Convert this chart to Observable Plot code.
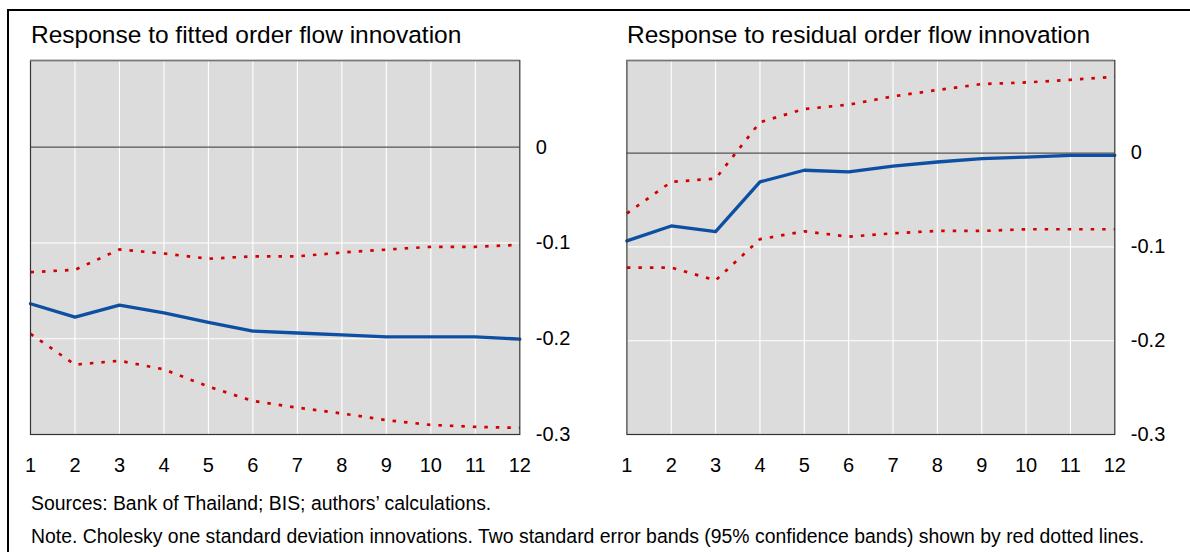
<!DOCTYPE html>
<html>
<head>
<meta charset="utf-8">
<script src="https://cdn.jsdelivr.net/npm/d3@7"></script>
<script src="https://cdn.jsdelivr.net/npm/@observablehq/plot@0.6"></script>
<style>
  html, body { margin: 0; padding: 0; background: #fff; overflow: hidden; width: 1190px; height: 552px; }
  body { position: relative; font-family: "Liberation Sans", Arial, sans-serif; color: #000; }
  .frame { position: absolute; left: 7px; top: 9px; width: 1200px; height: 600px; border-top: 2px solid #000; border-left: 2px solid #000; }
  .title { position: absolute; font-size: 24.5px; line-height: 24px; white-space: nowrap; }
  .foot { position: absolute; left: 31px; font-size: 19.4px; line-height: 19px; white-space: nowrap; }
  .panel { position: absolute; top: 0; }
</style>
</head>
<body>
<div class="frame"></div>
<div class="title" style="left:31px; top:23px;">Response to fitted order flow innovation</div>
<div class="title" style="left:627px; top:23px;">Response to residual order flow innovation</div>
<div id="left" class="panel" style="left:0px;"></div>
<div id="right" class="panel" style="left:595px;"></div>
<div class="foot" style="top:494px;">Sources: Bank of Thailand; BIS; authors’ calculations.</div>
<div class="foot" style="top:527px;">Note. Cholesky one standard deviation innovations. Two standard error bands (95% confidence bands) shown by red dotted lines.</div>
<script>
// ---- data ----
const horizons = [1, 2, 3, 4, 5, 6, 7, 8, 9, 10, 11, 12];
const yTicks = [0, -0.1, -0.2, -0.3];

const fittedResponse = [-0.1635, -0.1775, -0.165, -0.173, -0.183, -0.192, -0.194, -0.196, -0.198, -0.198, -0.198, -0.2004];
const fittedUpper    = [-0.1305, -0.128, -0.1068, -0.111, -0.1165, -0.114, -0.114, -0.110, -0.107, -0.104, -0.104, -0.102];
const fittedLower    = [-0.195, -0.227, -0.223, -0.232, -0.250, -0.265, -0.272, -0.278, -0.285, -0.290, -0.292, -0.293];

const residualResponse = [-0.0936, -0.0777, -0.0838, -0.0307, -0.0183, -0.0201, -0.0138, -0.0095, -0.006, -0.0042, -0.0024, -0.0024];
const residualUpper    = [-0.0643, -0.0307, -0.0272, 0.0329, 0.047, 0.0516, 0.0605, 0.0672, 0.0736, 0.0753, 0.0781, 0.0813];
const residualLower    = [-0.122, -0.122, -0.1357, -0.0918, -0.0834, -0.0891, -0.0855, -0.083, -0.083, -0.0812, -0.0812, -0.0812];

const toRows = (vals) => horizons.map((h, i) => ({h, v: vals[i]}));

function panel({response, upper, lower, yTop, marginLeft}) {
  const blue = "#0d4fa2", red = "#d40000";
  return Plot.plot({
    width: 595,
    height: 480,
    marginLeft,
    marginRight: 75.7,
    marginTop: 60,
    marginBottom: 46,
    style: {fontFamily: "'Liberation Sans', Arial, sans-serif", fontSize: "20px", color: "#000", background: "transparent", overflow: "visible"},
    x: {domain: [1, 12]},
    y: {domain: [-0.3, yTop]},
    marks: [
      Plot.frame({fill: "#dcdcdc", stroke: null}),
      Plot.ruleX(horizons, {stroke: "#fff", strokeWidth: 1.1}),
      Plot.ruleY([-0.1, -0.2], {stroke: "#fff", strokeWidth: 1.1}),
      Plot.ruleY([0], {stroke: "#555", strokeWidth: 1.2}),
      Plot.line(toRows(upper), {x: "h", y: "v", stroke: red, strokeWidth: 2.7, strokeDasharray: "3.5,8", strokeLinecap: "butt"}),
      Plot.line(toRows(lower), {x: "h", y: "v", stroke: red, strokeWidth: 2.7, strokeDasharray: "3.5,8", strokeLinecap: "butt"}),
      Plot.line(toRows(response), {x: "h", y: "v", stroke: blue, strokeWidth: 3.3}),
      Plot.frame({stroke: "#333", strokeWidth: 1.2}),
      Plot.ruleY([yTop], {stroke: "#777", strokeWidth: 1.4}),
      Plot.axisX({ticks: horizons, tickSize: 0, tickPadding: 23, fontSize: 20, tickFormat: d => String(d), label: null}),
      Plot.axisY({anchor: "right", ticks: yTicks, tickSize: 0, tickPadding: 16, fontSize: 20, tickFormat: d => d === 0 ? "0" : d.toFixed(1), label: null})
    ]
  });
}

document.getElementById("left").appendChild(panel({response: fittedResponse, upper: fittedUpper, lower: fittedLower, yTop: 0.0905, marginLeft: 30}));
document.getElementById("right").appendChild(panel({response: residualResponse, upper: residualUpper, lower: residualLower, yTop: 0.0987, marginLeft: 31.4}));
</script>
</body>
</html>
